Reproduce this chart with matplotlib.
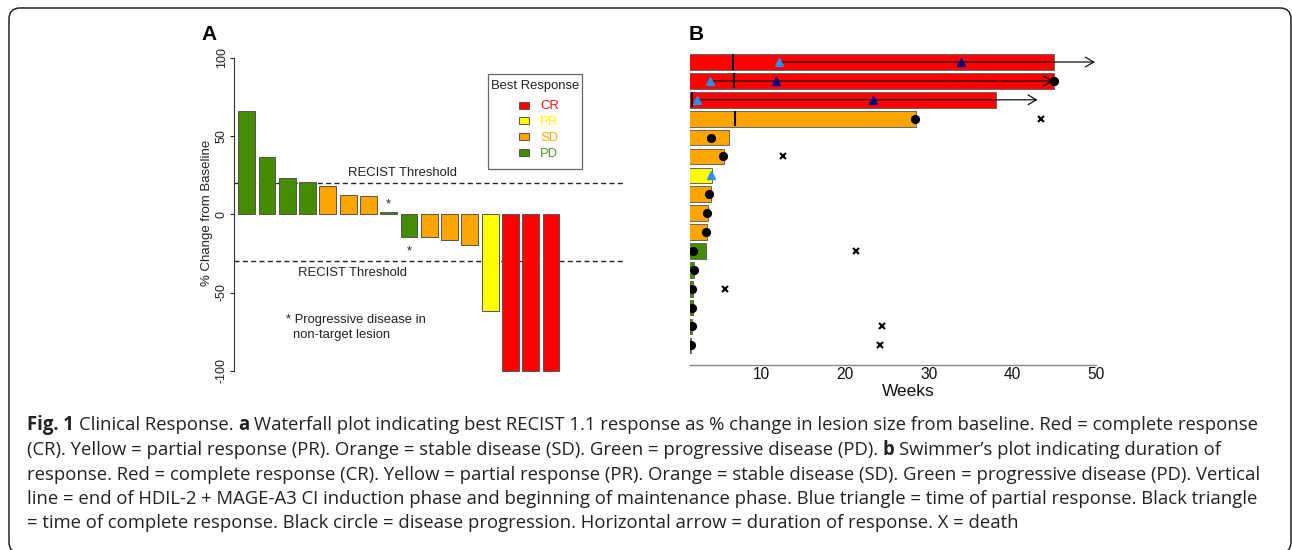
import matplotlib
matplotlib.use('Agg')
import matplotlib.pyplot as plt
from matplotlib.patches import Rectangle, FancyBboxPatch
from matplotlib.transforms import IdentityTransform
import numpy as np

plt.rcParams['font.family'] = ['Liberation Sans', 'DejaVu Sans']
plt.rcParams['lines.scale_dashes'] = False

# ---------------- data ----------------
resp_colors = {'CR': '#FF0000', 'PR': '#FFFF00', 'SD': '#FFA500', 'PD': '#458B00'}
legend_labels = ['CR', 'PR', 'SD', 'PD']
legend_text_colors = ['#FF1010', '#FFFF00', '#FFA500', '#4A9A1F']

# Panel A: waterfall
waterfall_pct = [65.8, 36.8, 23.5, 20.5, 18.2, 12.2, 11.5, 1.7,
                 -14.3, -14.3, -16.5, -19.4, -62.0, -100.0, -100.0, -100.0]
waterfall_resp = ['PD', 'PD', 'PD', 'PD', 'SD', 'SD', 'SD', 'PD',
                  'PD', 'SD', 'SD', 'SD', 'PR', 'CR', 'CR', 'CR']
nontarget_pd_idx = [7, 8]
recist_upper = 20
recist_lower = -30
a_yticks = [-100, -50, 0, 50, 100]

# Panel B: swimmer
swim_resp = ['CR', 'CR', 'CR', 'SD', 'SD', 'SD', 'PR', 'SD',
             'SD', 'SD', 'PD', 'PD', 'PD', 'PD', 'PD', 'PD']
swim_weeks = [44.97, 44.97, 38.04, 28.45, 6.14, 5.54, 4.07, 3.95,
              3.60, 3.48, 3.36, 1.92, 1.88, 1.88, 1.68, 1.64]
induction_rows = [0, 1, 2, 3]
induction_week = [6.65, 6.74, 1.68, 6.82]
pr_rows = [0, 1, 2, 6]
pr_week = [12.15, 3.87, 2.28, 3.95]
cr_rows = [0, 1, 2]
cr_week = [33.86, 11.72, 23.31]
dor_rows = [0, 1, 2]
dor_start = [12.15, 3.87, 2.28]
dor_end = [49.87, 44.85, 43.02]
prog_rows = [1, 3, 4, 5, 7, 8, 9, 10, 11, 12, 13, 14, 15]
prog_week = [44.97, 28.36, 3.95, 5.46, 3.79, 3.55, 3.39, 1.80, 1.96, 1.72, 1.72, 1.68, 1.64]
death_rows = [3, 5, 10, 12, 14, 15]
death_week = [43.38, 12.56, 21.35, 5.70, 24.38, 24.18]
b_xticks = [10, 20, 30, 40, 50]

caption_lines = [
    [("Fig. 1", True), ("Clinical Response.", False), ("a", True),
     ("Waterfall plot indicating best RECIST 1.1 response as % change in lesion size from baseline. Red = complete response", False)],
    [("(CR). Yellow = partial response (PR). Orange = stable disease (SD). Green = progressive disease (PD).", False),
     ("b", True), ("Swimmer\u2019s plot indicating duration of", False)],
    [("response. Red = complete response (CR). Yellow = partial response (PR). Orange = stable disease (SD). Green = progressive disease (PD). Vertical", False)],
    [("line = end of HDIL-2 + MAGE-A3 CI induction phase and beginning of maintenance phase. Blue triangle = time of partial response. Black triangle", False)],
    [("= time of complete response. Black circle = disease progression. Horizontal arrow = duration of response. X = death", False)],
]

# ---------------- figure ----------------
W, H = 1292, 550
fig = plt.figure(figsize=(W / 100, H / 100), dpi=100)


def fx(px):
    return px / W


def fy(py):
    return 1 - py / H


# border
border = FancyBboxPatch((9, -3), 1282, H - 8 + 3, boxstyle='round,pad=0,rounding_size=11',
                        transform=IdentityTransform(), facecolor='none',
                        edgecolor='#222222', linewidth=1.1)
fig.add_artist(border)

# ---------------- Panel A ----------------
axA = fig.add_axes([fx(234), fy(383.3), 389 / W, 338 / H])
xs = np.arange(len(waterfall_pct)) * 1.2
axA.bar(xs, waterfall_pct, width=1.0, color=[resp_colors[r] for r in waterfall_resp],
        edgecolor='#555555', linewidth=0.7, zorder=2)
axA.set_xlim(-0.75, 22.26)
axA.set_ylim(-108, 108)
for s in ['top', 'right', 'bottom']:
    axA.spines[s].set_visible(False)
axA.spines['left'].set_bounds(-100, 100)
axA.spines['left'].set_color('#333333')
axA.spines['left'].set_linewidth(0.8)
axA.set_xticks([])
axA.set_yticks(a_yticks, [str(v) for v in a_yticks], rotation=90, va='center')
axA.tick_params(axis='y', length=3, width=0.8, pad=1.5, labelsize=9, colors='#222222')

for yv in (recist_upper, recist_lower):
    axA.axhline(yv, color='#222222', lw=1.0, dashes=(3.6, 2.4), zorder=1)
axA.text(9.19, 26.4, 'RECIST Threshold', ha='center', va='center', fontsize=9.4, color='#222222')
axA.text(6.23, -37.5, 'RECIST Threshold', ha='center', va='center', fontsize=9.4, color='#222222')

for i in nontarget_pd_idx:
    v = waterfall_pct[i]
    if v >= 0:
        axA.text(xs[i], v + 2.4, '*', ha='center', va='baseline', fontsize=9.4, color='#222222')
    else:
        axA.text(xs[i], v - 11.6, '*', ha='center', va='baseline', fontsize=9.4, color='#222222')

axA.text(2.33, -67.5, '* Progressive disease in', ha='left', va='center', fontsize=9.4, color='#222222')
axA.text(2.74, -77.1, 'non-target lesion', ha='left', va='center', fontsize=9.4, color='#222222')

# legend (drawn as a boxed key)
fig.add_artist(Rectangle((fx(488.3), fy(169)), (581.7 - 488.3) / W, 95 / H, transform=fig.transFigure,
                         facecolor='white', edgecolor='#666666', linewidth=0.9))
fig.text(fx(534.8), fy(86), 'Best Response', ha='center', va='center', fontsize=9.4, color='#222222')
key_rows = [105, 120.8, 136.5, 152.3]
for lab, tc, ky in zip(legend_labels, legend_text_colors, key_rows):
    fig.add_artist(Rectangle((fx(519), fy(ky + 3.5)), 10 / W, 7 / H, transform=fig.transFigure,
                             facecolor=resp_colors[lab], edgecolor='#555555', linewidth=0.7))
    fig.text(fx(540), fy(ky + 1.3), lab, ha='left', va='center', fontsize=9.4, color=tc)

fig.text(fx(207), fy(213), '% Change from Baseline', rotation=90, ha='center', va='center',
         fontsize=9.5, color='#222222')
fig.text(fx(209), fy(34), 'A', ha='center', va='center', fontsize=15, fontweight='bold')

# ---------------- Panel B ----------------
axB = fig.add_axes([fx(690), fy(365), 410 / W, (365 - 50.7) / H])
rows_y = -np.arange(len(swim_weeks))
axB.barh(rows_y, swim_weeks, left=0, height=0.83, color=[resp_colors[r] for r in swim_resp],
         edgecolor='#666666', linewidth=0.7, zorder=2)
axB.set_xlim(1.48, 50.47)
axB.set_ylim(-16.04, 0.6)

iy = -np.array(induction_rows)
axB.vlines(induction_week, iy - 0.4, iy + 0.4, color='black', lw=1.5, zorder=3)
for r, s, e in zip(dor_rows, dor_start, dor_end):
    axB.annotate('', xy=(e, -r), xytext=(s, -r),
                 arrowprops=dict(arrowstyle='->,head_length=0.6,head_width=0.35', lw=0.9,
                                 color='#111111', shrinkA=0, shrinkB=0, mutation_scale=10),
                 zorder=4, annotation_clip=False)
axB.plot(pr_week, -np.array(pr_rows), '^', ms=5.2, color='#2C8FEA', zorder=5, clip_on=True)
axB.plot(cr_week, -np.array(cr_rows), '^', ms=5.2, color='#000080', zorder=5)
axB.plot(prog_week, -np.array(prog_rows), 'o', ms=5.6, color='black', zorder=6)
axB.plot(death_week, -np.array(death_rows), 'x', ms=4, mew=1.5, color='black', zorder=6)

for s in ['top', 'right', 'left']:
    axB.spines[s].set_visible(False)
axB.spines['bottom'].set_bounds(1.48, 50)
axB.spines['bottom'].set_color('#888888')
axB.spines['bottom'].set_linewidth(1.0)
axB.set_yticks([])
axB.set_xticks(b_xticks, [str(v) for v in b_xticks])
axB.tick_params(axis='x', length=0, pad=1.5, labelsize=11.2, colors='#111111')
fig.text(fx(908), fy(391), 'Weeks', ha='center', va='center', fontsize=12.5, color='#111111')
fig.text(fx(696), fy(34), 'B', ha='center', va='center', fontsize=15, fontweight='bold')

# ---------------- caption ----------------
renderer = fig.canvas.get_renderer()
CAP_FAMILY = ['Open Sans', 'DejaVu Sans']


def measure(txt, bold, size):
    t = fig.text(0, 0, txt, fontsize=size, family=CAP_FAMILY, fontweight='bold' if bold else 'normal')
    w = t.get_window_extent(renderer).width
    t.remove()
    return w


ref = 10.0
sp_ref = measure('x x', False, ref) - measure('xx', False, ref)
w_line1 = sum(measure(t, b, ref) for t, b in caption_lines[0]) + sp_ref * (len(caption_lines[0]) - 1)
cap_left, cap_right = 27, 1258
cap_size = ref * (cap_right - cap_left) / w_line1
sp = measure('x x', False, cap_size) - measure('xx', False, cap_size)

baselines = [430, 455, 479.5, 504, 528.5]
for segs, yb in zip(caption_lines, baselines):
    x = cap_left
    for txt, bold in segs:
        fig.text(fx(x), fy(yb), txt, fontsize=cap_size, family=CAP_FAMILY,
                 fontweight='bold' if bold else 'normal', ha='left', va='baseline', color='#222222')
        x += measure(txt, bold, cap_size) + sp

fig.savefig('out.png', dpi=100)
